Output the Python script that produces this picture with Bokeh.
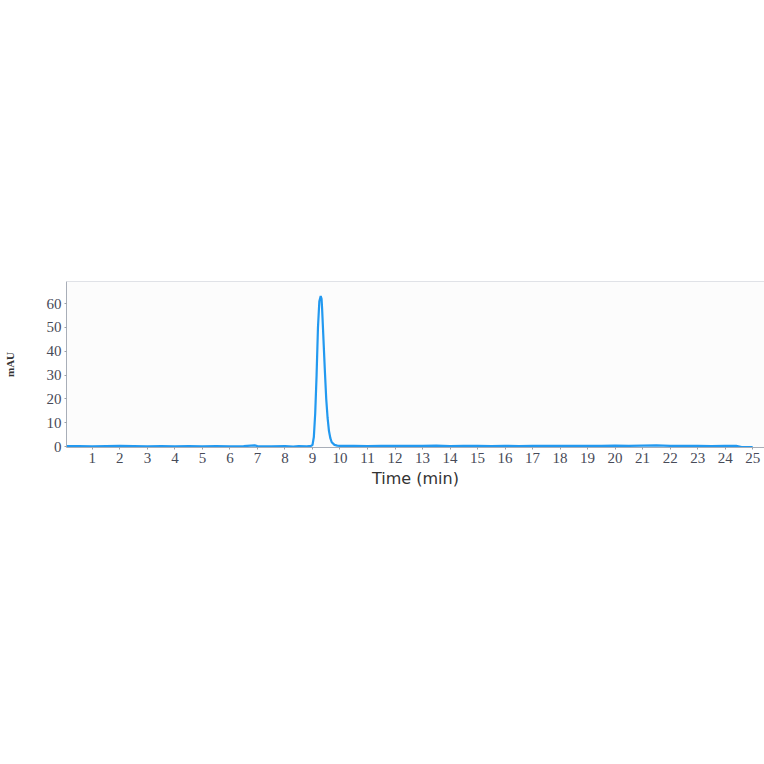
from bokeh.plotting import figure
from bokeh.models import FixedTicker, Range1d, Span
from bokeh.embed import file_html
from bokeh.resources import INLINE

# Chromatogram trace (time in min, absorbance in mAU)
time_min = [0.05, 0.5, 1.0, 1.5, 2.0, 2.5, 3.0, 3.5, 4.0, 4.5, 5.0, 5.5, 6.0, 6.5,
            6.9, 7.0, 7.5, 8.0, 8.3, 8.5, 8.8, 8.95, 9.0, 9.05, 9.1, 9.15, 9.2,
            9.25, 9.3, 9.33, 9.35, 9.4, 9.45, 9.5, 9.55, 9.6, 9.65, 9.7, 9.8,
            9.9, 10.0, 10.5, 11.0, 11.5, 12.0, 12.5, 13.0, 13.5, 14.0, 14.5, 15.0,
            15.5, 16.0, 16.5, 17.0, 17.5, 18.0, 18.5, 19.0, 19.5, 20.0, 20.5, 21.0,
            21.5, 22.0, 22.5, 23.0, 23.5, 24.0, 24.4, 24.6, 25.0]
mau = [0.2, 0.2, 0.1, 0.2, 0.3, 0.2, 0.1, 0.2, 0.1, 0.2, 0.1, 0.2, 0.1, 0.2,
       0.5, 0.2, 0.1, 0.2, 0.0, 0.2, 0.1, 0.3, 0.6, 4.0, 14.0, 30.0, 50.0,
       61.0, 63.2, 62.0, 58.0, 45.0, 32.0, 20.0, 12.0, 6.5, 3.5, 1.8, 0.7,
       0.4, 0.3, 0.3, 0.2, 0.3, 0.3, 0.3, 0.3, 0.4, 0.2, 0.3, 0.3,
       0.2, 0.3, 0.2, 0.3, 0.3, 0.3, 0.3, 0.3, 0.3, 0.4, 0.3, 0.4,
       0.5, 0.3, 0.3, 0.3, 0.2, 0.3, 0.3, -0.2, -0.2]

x_ticks = list(range(1, 26))
y_ticks = [0, 10, 20, 30, 40, 50, 60]

X_END = 25.43
Y_END = 69.3

p = figure(width=764, height=500, output_backend="svg", toolbar_location=None,
           x_range=Range1d(0.06, X_END), y_range=Range1d(-0.4, Y_END),
           min_border_top=281, min_border_left=65, min_border_right=0,
           min_border_bottom=53)

p.border_fill_color = "white"
p.background_fill_color = "#fcfcfc"
p.outline_line_color = None
p.xgrid.visible = False
p.ygrid.visible = False

p.add_layout(Span(location=Y_END, dimension="width", line_color="#c3c8d2",
                  line_width=1))

p.line(time_min, mau, line_color="#2299f0", line_width=2.2)

for ax in (p.xaxis[0], p.yaxis[0]):
    ax.axis_line_color = "#a8aeb8"
    ax.major_tick_line_color = "#9aa0a8"
    ax.major_tick_in = 0
    ax.major_tick_out = 2
    ax.minor_tick_line_color = None
    ax.major_label_text_font = "Liberation Serif"
    ax.major_label_text_font_size = "15px"
    ax.major_label_text_color = "#474a58"

p.xaxis.ticker = FixedTicker(ticks=x_ticks)
p.yaxis.ticker = FixedTicker(ticks=y_ticks)
p.xaxis.major_label_standoff = 3
p.yaxis.major_label_standoff = 3

p.xaxis.axis_label = "Time (min)"
p.xaxis.axis_label_text_font = "DejaVu Sans"
p.xaxis.axis_label_text_font_style = "normal"
p.xaxis.axis_label_text_font_size = "16px"
p.xaxis.axis_label_text_color = "#333333"
p.xaxis.axis_label_standoff = 3

p.yaxis.axis_label = "mAU"
p.yaxis.axis_label_text_font = "Liberation Serif"
p.yaxis.axis_label_text_font_style = "bold"
p.yaxis.axis_label_text_font_size = "11px"
p.yaxis.axis_label_text_color = "#333333"
p.yaxis.axis_label_standoff = 28

open("out.html", "w").write(file_html(p, INLINE))
